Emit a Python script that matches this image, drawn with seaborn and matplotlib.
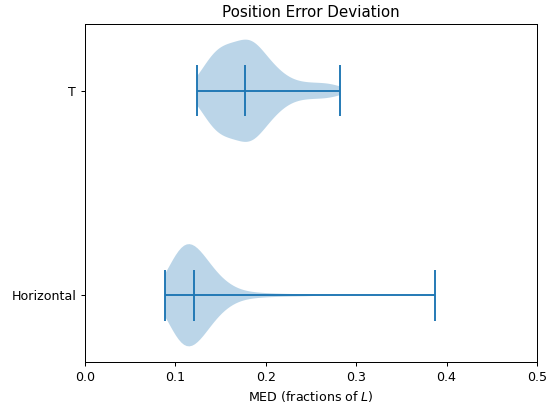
import numpy as np
import pandas as pd
import matplotlib
matplotlib.use("Agg")
import matplotlib.pyplot as plt
import seaborn as sns

# Categories (top to bottom)
categories = ["T", "Horizontal"]

# Sample values (value, how many samples)
t_values = [0.124, 0.128, 0.133, 0.138, 0.143, 0.148, 0.153, 0.158, 0.163, 0.168,
            0.1725, 0.177, 0.1815, 0.186, 0.191, 0.196, 0.201, 0.206, 0.211, 0.216,
            0.221, 0.226, 0.231, 0.234, 0.237, 0.240, 0.243, 0.246, 0.249, 0.252,
            0.255, 0.258, 0.261, 0.264, 0.267, 0.270, 0.273, 0.276, 0.279, 0.282]
t_counts = [2, 3, 6, 8, 9, 10, 10, 10, 10, 10,
            6, 12, 12, 12, 10, 8, 7, 6, 5, 4,
            3, 2, 2, 1, 1, 1, 1, 1, 1, 1,
            1, 1, 1, 1, 1, 1, 1, 1, 1, 1]

h_values = [0.0885, 0.0925, 0.0965, 0.1005, 0.1045, 0.1085, 0.1125, 0.1165, 0.1205,
            0.1245, 0.1285, 0.1325, 0.1365, 0.1405, 0.1445, 0.1485, 0.1525, 0.157,
            0.162, 0.168, 0.175, 0.183, 0.192, 0.205, 0.222, 0.245, 0.387]
h_counts = [2, 3, 6, 8, 9, 10, 10, 9, 9,
            8, 7, 6, 5, 4, 3, 3, 2, 2,
            2, 1, 1, 1, 1, 1, 1, 1, 1]

samples = {
    "T": np.repeat(t_values, t_counts),
    "Horizontal": np.repeat(h_values, h_counts),
}

df = pd.DataFrame({
    "group": np.concatenate([[k] * len(samples[k]) for k in categories]),
    "MED": np.concatenate([samples[k] for k in categories]),
})

color = "#1f77b4"
DPI = 91
fig = plt.figure(figsize=(549 / DPI, 403 / DPI), dpi=DPI)
ax = fig.add_axes([85 / 549, 1 - 361.7 / 403, (537 - 85) / 549, (361.7 - 24.3) / 403])

sns.violinplot(data=df, x="MED", y="group", order=categories, orient="h",
               inner=None, cut=0, width=0.5, density_norm="width",
               color=color, saturation=1, linewidth=0, ax=ax)
for coll in ax.collections:
    coll.set_alpha(0.3)
    coll.set_edgecolor("none")

half = 0.125
for i, k in enumerate(categories):
    v = samples[k]
    lo, md, hi = np.min(v), np.median(v), np.max(v)
    ax.hlines(i, lo, hi, color=color, linewidth=1.5, zorder=3)
    ax.vlines([lo, md, hi], i - half, i + half, color=color, linewidth=1.5, zorder=3)

ax.set_xlim(0, 0.5)
ax.set_xticks([0.0, 0.1, 0.2, 0.3, 0.4, 0.5])
ax.set_ylim(1.325, -0.325)
ax.set_ylabel("")
ax.set_xlabel("MED (fractions of $L$)")
ax.set_title("Position Error Deviation")
for s in ax.spines.values():
    s.set_visible(True)
    s.set_color("black")

fig.savefig("out.png", dpi=DPI)
